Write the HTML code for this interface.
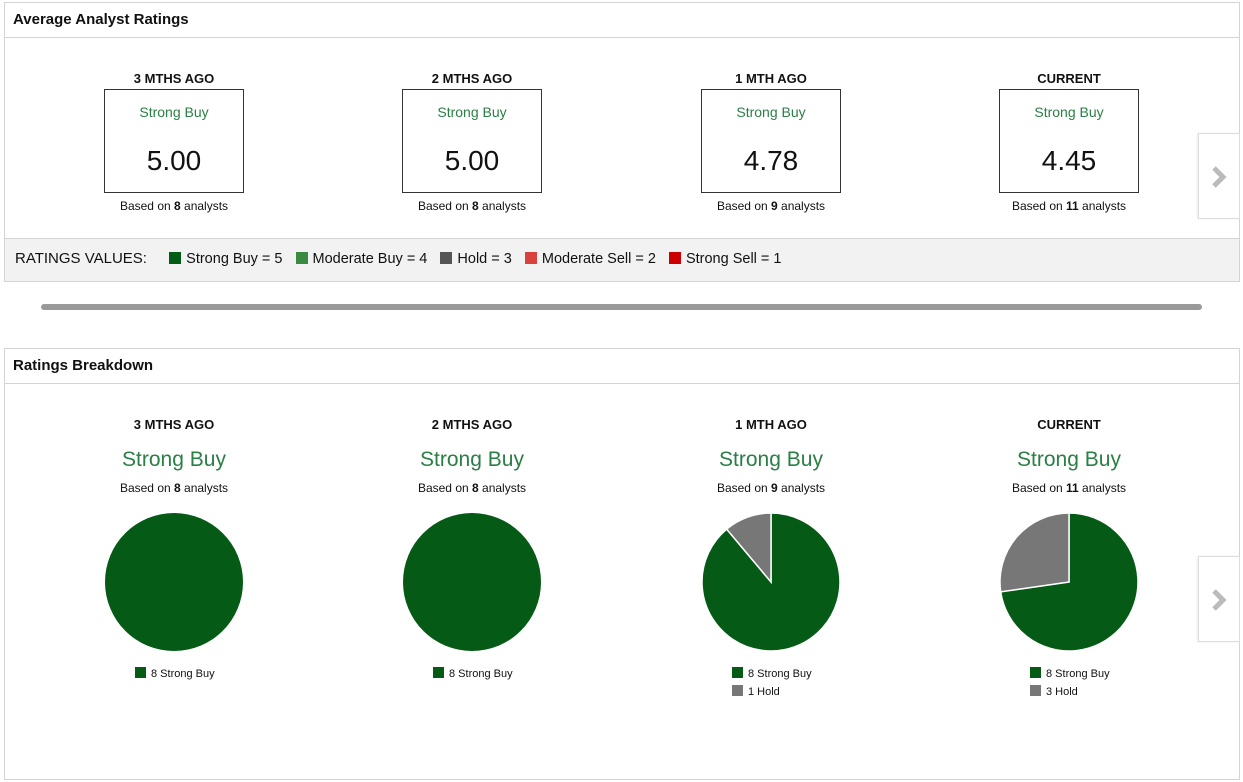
<!DOCTYPE html>
<html><head><meta charset="utf-8"><style>
*{box-sizing:border-box;margin:0;padding:0}
body{width:1243px;height:782px;background:#fff;font-family:"Liberation Sans",sans-serif;color:#111;position:relative;overflow:hidden}
.panel{position:absolute;left:4px;width:1236px;border:1px solid #d4d4d4;background:#fff}
.hdr{height:35px;border-bottom:1px solid #d4d4d4;font-weight:bold;font-size:15px;padding:8px 0 0 8px}
.abs{position:absolute}
.lbl{position:absolute;width:240px;text-align:center;font-weight:bold;font-size:13px}
.box{position:absolute;width:140px;height:104px;border:1px solid #333;text-align:center}
.sb{color:#2a7f45}
.based{position:absolute;width:240px;text-align:center;font-size:12px}
.arrow{position:absolute;left:1198px;width:42px;height:86px;border:1px solid #ddd;background:#fff;box-shadow:-1px 0 2px rgba(0,0,0,.08)}
.leg{position:absolute;font-size:11px}
.sq{display:inline-block;width:11px;height:11px;vertical-align:-1px;margin-right:5px}
.rv{margin-right:9px}
</style></head><body>
<div class="panel" style="top:2px;height:280px">
<div class="hdr">Average Analyst Ratings</div>
<div class="abs" style="left:0;top:235px;width:1234px;height:43px;background:#f2f2f2;border-top:1px solid #d4d4d4;font-size:15px;padding:11px 0 0 10px">
<span style="margin-right:18px">RATINGS VALUES:</span>
<span style="font-size:14.5px"><span class="rv"><span class="sq" style="background:#055a15;width:12px;height:12px"></span>Strong Buy = 5</span>
<span class="rv"><span class="sq" style="background:#3a8a3f;width:12px;height:12px"></span>Moderate Buy = 4</span>
<span class="rv"><span class="sq" style="background:#555;width:12px;height:12px"></span>Hold = 3</span>
<span class="rv"><span class="sq" style="background:#d9413f;width:12px;height:12px"></span>Moderate Sell = 2</span>
<span class="rv"><span class="sq" style="background:#c00;width:12px;height:12px"></span>Strong Sell = 1</span></span></div>
</div>
<div class="arrow" style="top:133px"><svg width="42" height="86"><polyline points="15,34 24,43 15,52" fill="none" stroke="#bbb" stroke-width="5"/></svg></div>
<div class="abs" style="left:41px;top:304px;width:1161px;height:6px;border-radius:3px;background:#9a9a9a"></div>
<div class="panel" style="top:348px;height:432px">
<div class="hdr">Ratings Breakdown</div>
</div>
<div class="arrow" style="top:556px"><svg width="42" height="86"><polyline points="15,34 24,43 15,52" fill="none" stroke="#bbb" stroke-width="5"/></svg></div>
<svg id="pies" class="abs" style="left:0;top:0" width="1243" height="782"></svg>
<div id="cols"></div>
<script>
const periods=["3 MTHS AGO","2 MTHS AGO","1 MTH AGO","CURRENT"];
const avgValues=[5.00,5.00,4.78,4.45];
const analystCounts=[8,8,9,11];
const strongBuy=[8,8,8,8];
const hold=[0,0,1,3];
const centers=[174,472,771,1069];
const cols=document.getElementById('cols');
const svg=document.getElementById('pies');
const NS="http://www.w3.org/2000/svg";
function add(html,name){const d=document.createElement('div');d.innerHTML=html;const el=d.firstChild;

cols.appendChild(el);return el;}
periods.forEach((p,i)=>{
 const c=centers[i];
 add(`<div class="lbl" style="left:${c-120}px;top:71px">${p}</div>`,'period-label');
 add(`<div class="box" style="left:${c-70}px;top:89px"><div class="sb" style="font-size:14px;margin-top:14px">Strong Buy</div><div style="font-size:28px;margin-top:25px">${avgValues[i].toFixed(2)}</div></div>`,'rating-box');
 add(`<div class="based" style="left:${c-120}px;top:199px">Based on <b>${analystCounts[i]}</b> analysts</div>`,'based-on-text');
 add(`<div class="lbl" style="left:${c-120}px;top:417px">${p}</div>`,'period-label');
 add(`<div class="lbl sb" style="left:${c-120}px;top:448px;font-weight:normal;font-size:21px">Strong Buy</div>`,'consensus-label');
 add(`<div class="based" style="left:${c-120}px;top:481px">Based on <b>${analystCounts[i]}</b> analysts</div>`,'based-on-text');
 const total=strongBuy[i]+hold[i];const r=69,cy=582;
 const vals=[strongBuy[i],hold[i]],colors=["#055a15","#777"];
 let a0=0;
 vals.forEach((v,k)=>{
  if(!v)return;
  let el;
  if(v===total){el=document.createElementNS(NS,'circle');el.setAttribute('cx',c);el.setAttribute('cy',cy);el.setAttribute('r',r);}
  else{const a1=a0+v/total*2*Math.PI;
   const x0=c+r*Math.sin(a0),y0=cy-r*Math.cos(a0),x1=c+r*Math.sin(a1),y1=cy-r*Math.cos(a1);
   el=document.createElementNS(NS,'path');
   el.setAttribute('d',`M${c},${cy}L${x0},${y0}A${r},${r} 0 ${a1-a0>Math.PI?1:0} 1 ${x1},${y1}Z`);
   el.setAttribute('stroke','#fff');el.setAttribute('stroke-width','1.5');a0=a1;}
  el.setAttribute('fill',colors[k]);
  
  
  svg.appendChild(el);
 });
 add(`<div class="leg" style="left:${c-39}px;top:667px"><span class="sq" style="background:#055a15"></span>${strongBuy[i]} Strong Buy</div>`,'legend-entry-strong-buy');
 if(hold[i])add(`<div class="leg" style="left:${c-39}px;top:685px"><span class="sq" style="background:#777"></span>${hold[i]} Hold</div>`,'legend-entry-hold');
});
</script>
</body></html>
